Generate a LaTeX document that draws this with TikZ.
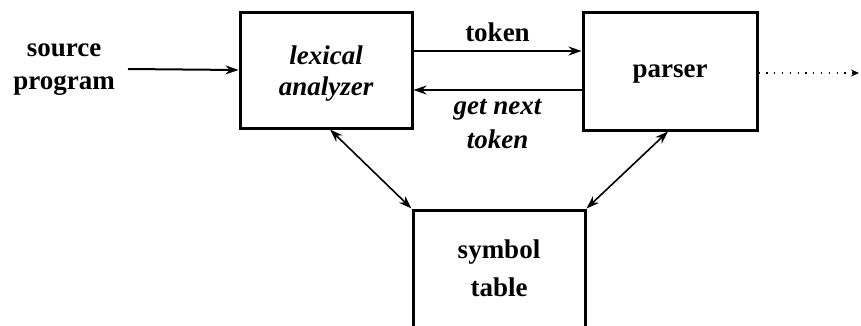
\documentclass[tikz,border=0pt]{standalone}
\usepackage{fontspec}
\setmainfont{Liberation Serif}
\usetikzlibrary{arrows.meta}
\begin{document}
\begin{tikzpicture}[x=1pt,y=-1pt,
  box/.style={draw,line width=3pt,inner sep=0pt},
  lbl/.style={font=\fontsize{27}{33}\selectfont\bfseries,align=center,inner sep=0pt},
  conn/.style={line width=2pt,-{Stealth[length=13pt,width=9pt]}},
  dconn/.style={line width=1.6pt,{Stealth[length=13pt,width=9pt]}-{Stealth[length=13pt,width=9pt]}}]
\useasboundingbox (0,0) rectangle (861,325);
\node[box,minimum width=172pt,minimum height=116pt] (lex) at (326,70) {};
\node[lbl,font=\fontsize{27}{31}\selectfont\bfseries\itshape] (lext) at (326,74) {lexical\\analyzer};
\node[box,minimum width=174pt,minimum height=118pt] (par) at (670,71) {};
\node[lbl] (part) at (670,74) {parser};
\node[box,minimum width=172pt,minimum height=160pt] (sym) at (499,290) {};
\node[lbl,font=\fontsize{27}{38}\selectfont\bfseries] (symt) at (499,268) {symbol\\table};
\node[lbl] (src) at (64,70) {source\\program};
\coordinate (srcend) at (128,69);
\draw[conn] (srcend) -- (lex.west);
\draw[conn] ([yshift=19pt]lex.east) -- ([yshift=20pt]par.west) node[midway,above=8pt,lbl] (tok) {token};
\draw[conn] ([yshift=-19pt]par.west) -- ([yshift=-20pt]lex.east) node[midway,below=8pt,lbl,font=\fontsize{27}{34}\selectfont\bfseries\itshape] (gnt) {get next\\token};
\draw[dconn] ([xshift=4pt]lex.south) -- (sym.north west);
\draw[dconn] ([xshift=-2pt]par.south) -- (sym.north east);
\coordinate (out) at (859,73);
\draw[line width=1.3pt,dash pattern=on 1.3pt off 6.5pt,-{Stealth[length=8pt,width=7pt,open]}] ([yshift=-2pt]par.east) -- (out);
\end{tikzpicture}
\end{document}
